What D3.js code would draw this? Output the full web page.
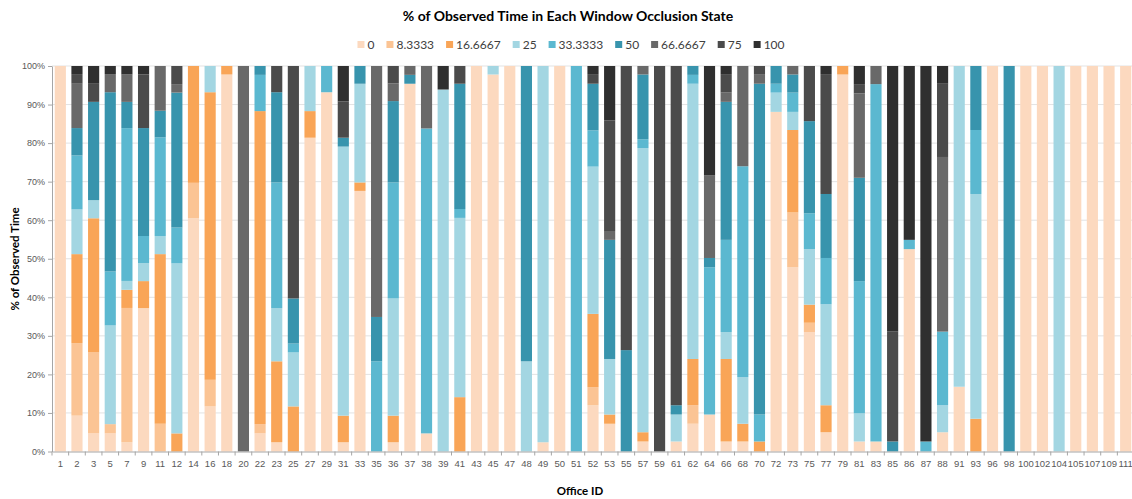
<!DOCTYPE html>
<html>
<head>
<meta charset="utf-8">
<script src="https://cdn.jsdelivr.net/npm/d3@7"></script>
<style>
  body { margin: 0; background: #fff; }
  svg { font-family: Lato, "Open Sans", sans-serif; }
</style>
</head>
<body>
<div id="chart"></div>
<script>
const officeIds = [1,2,3,5,7,9,11,12,14,16,18,20,22,23,25,27,29,31,33,35,36,37,38,39,41,43,45,47,48,49,
  50,51,52,53,55,57,59,61,62,64,66,68,70,72,73,75,77,79,81,83,85,86,87,88,91,93,96,98,100,102,
  104,105,107,109,111];

const states = ["0", "8.3333", "16.6667", "25", "33.3333", "50", "66.6667", "75", "100"];
const stateColors = ["#fcd9bf", "#fbc494", "#f9a557", "#a3d6e2", "#5bb8d0", "#3894ad", "#696969", "#4b4b4b", "#2f2f2f"];

const s0 = [100,9.3,4.7,4.7,2.4,37.2,0,0,60.5,11.7,
  97.8,0,4.7,2.4,0,81.4,93.2,2.4,67.6,0,
  2.4,95.4,4.7,0,0,100,97.8,100,0,2.4,
  100,0,12.0,7.2,0,2.6,0,2.6,7.2,9.6,
  2.6,2.6,0,88.1,47.8,31.0,5.0,97.8,2.6,2.6,
  0,52.5,0,5.0,16.8,0,100,0,100,100,
  0,100,100,100,100];
const s8 = [0,18.8,21.0,2.4,34.8,0,7.2,0,9.2,6.9,
  0,0,2.4,0,0,0,0,0,0,0,
  0,0,0,0,0,0,0,0,0,0,
  0,0,4.7,0,0,0,0,0,4.8,0,
  0,0,0,0,14.2,2.4,0,0,0,0,
  0,0,0,0,0,0,0,0,0,0,
  0,0,0,0,0];
const s16 = [0,23.1,34.8,0,4.7,7.0,44.0,4.7,30.3,74.6,
  2.2,0,81.2,21.0,11.7,6.9,0,6.9,2.2,0,
  6.9,0,0,0,14.1,0,0,0,0,0,
  0,0,19.0,2.4,0,2.4,0,0,12.0,0,
  21.4,4.6,2.6,0,21.4,4.7,7.0,2.2,0,0,
  0,0,0,0,0,8.5,0,0,0,0,
  0,0,0,0,0];
const s25 = [0,11.6,4.7,25.6,2.3,4.7,4.7,44.1,0,6.8,
  0,0,0,13.8,14.0,11.7,0,69.8,25.6,0,
  30.4,0,0,93.9,46.5,0,2.2,0,23.4,97.6,
  0,0,38.2,14.4,0,73.7,0,7.0,71.4,0,
  7.0,12.1,0,5.0,4.7,14.4,26.2,0,7.3,0,
  0,0,0,7.0,83.2,58.3,0,0,0,0,
  100,0,0,0,0];
const s33 = [0,14.0,0,14.0,39.6,7.0,25.6,9.3,0,0,
  0,0,9.4,32.6,2.3,0,6.8,0,0,23.4,
  30.1,0,79.1,0,2.3,0,0,0,0,0,
  0,100,9.4,0,0,2.3,0,0,2.3,38.2,
  23.9,54.7,7.0,2.3,5.0,9.3,12.0,0,34.3,92.7,
  0,2.4,2.6,19.1,0,16.6,0,0,0,0,
  0,0,0,0,0];
const s50 = [0,7.1,25.5,46.5,6.8,28.0,6.9,35.0,0,0,
  0,0,2.3,23.4,11.7,0,0,2.3,4.6,11.5,
  21.1,2.3,0,0,32.5,0,0,0,76.6,0,
  0,0,12.1,30.9,26.3,16.8,0,2.4,2.3,2.4,
  35.8,0,85.8,4.6,4.7,23.9,16.6,0,26.8,0,
  2.6,0,0,0,0,16.6,0,100,0,0,
  0,0,0,0,0];
const s66 = [0,11.5,0,4.7,7.1,0,11.6,2.2,0,0,
  0,100,0,0,0,0,0,0,0,65.1,
  4.6,2.3,16.2,0,0,0,0,0,0,0,
  0,0,0,2.3,0,2.2,0,0,0,21.4,
  2.4,26.0,2.5,0,2.2,0,0,0,21.9,4.7,
  0,0,0,45.3,0,0,0,0,0,0,
  0,0,0,0,0];
const s75 = [0,2.5,4.7,0,0,13.9,0,4.7,0,0,
  0,0,0,6.8,60.3,0,0,9.4,0,0,
  4.5,0,0,0,4.6,0,0,0,0,0,
  0,0,2.5,28.7,73.7,0,100,88.0,0,0,
  4.8,0,2.1,0,0,14.3,31.1,0,2.4,0,
  28.5,0,0,19.0,0,0,0,0,0,0,
  0,0,0,0,0];
const s100 = [0,2.1,4.6,2.1,2.2,2.2,0,0,0,0,
  0,0,0,0,0,0,0,9.2,0,0,
  0,0,0,6.1,0,0,0,0,0,0,
  0,0,2.1,14.1,0,0,0,0,0,28.4,
  2.1,0,0,0,0,0,2.1,0,4.7,0,
  68.9,45.1,97.4,4.6,0,0,0,0,0,0,
  0,0,0,0,0];

const yTicks = [0, 0.1, 0.2, 0.3, 0.4, 0.5, 0.6, 0.7, 0.8, 0.9, 1];

const series = [s0, s8, s16, s25, s33, s50, s66, s75, s100];
const rows = officeIds.map((id, i) => {
  const r = { id: id };
  states.forEach((s, k) => r[s] = series[k][i]);
  return r;
});

const width = 1132, height = 499;
const plotLeft = 52, plotRight = 1134, plotTop = 66, plotBottom = 451.5;

const svg = d3.select("#chart").append("svg")
  .attr("width", width)
  .attr("height", height);

const x = d3.scaleBand().domain(officeIds).range([plotLeft, plotRight])
  .paddingInner(0.33).paddingOuter(0.165);
const y = d3.scaleLinear().domain([0, 1]).range([plotBottom, plotTop]);
const color = d3.scaleOrdinal().domain(states).range(stateColors);

// gridlines
svg.append("g")
  .selectAll("line")
  .data(yTicks.slice(1))
  .enter().append("line")
  .attr("x1", plotLeft).attr("x2", plotRight)
  .attr("y1", d => y(d)).attr("y2", d => y(d))
  .attr("stroke", "#e3e3e3");

const stacked = d3.stack().keys(states).offset(d3.stackOffsetExpand)(rows);

svg.append("g")
  .selectAll("g")
  .data(stacked)
  .enter().append("g")
  .attr("fill", d => color(d.key))
  .selectAll("rect")
  .data(d => d)
  .enter().append("rect")
  .attr("x", d => x(d.data.id))
  .attr("width", x.bandwidth())
  .attr("y", d => y(d[1]))
  .attr("height", d => y(d[0]) - y(d[1]));

// y axis
const yAxis = svg.append("g")
  .attr("transform", `translate(${plotLeft},0)`)
  .call(d3.axisLeft(y).tickValues(yTicks).tickFormat(d3.format(".0%")).tickSize(4).tickSizeOuter(0));
yAxis.select(".domain").attr("stroke", "#a6a6a6");
yAxis.selectAll(".tick line").attr("stroke", "#a6a6a6");
yAxis.selectAll("text").attr("fill", "#595959").style("font-size", "9px").attr("x", -7);

// x axis
const xAxis = svg.append("g")
  .attr("transform", `translate(0,${plotBottom})`)
  .call(d3.axisBottom(x).tickSize(0).tickSizeOuter(0));
xAxis.select(".domain").attr("stroke", "#a6a6a6");
xAxis.selectAll("text").attr("fill", "#595959").style("font-size", "9.5px").attr("dy", "1.35em");

// boundary ticks between categories
svg.append("g")
  .selectAll("line")
  .data(officeIds.concat([null]))
  .enter().append("line")
  .attr("x1", (d, i) => plotLeft + i * x.step())
  .attr("x2", (d, i) => plotLeft + i * x.step())
  .attr("y1", plotBottom).attr("y2", plotBottom + 4)
  .attr("stroke", "#a6a6a6");

// titles
svg.append("text")
  .attr("x", 568).attr("y", 21)
  .attr("text-anchor", "middle")
  .style("font-size", "14px").style("font-weight", "bold")
  .attr("fill", "#000")
  .text("% of Observed Time in Each Window Occlusion State");

svg.append("text")
  .attr("x", 580).attr("y", 495)
  .attr("text-anchor", "middle")
  .style("font-size", "11.5px").style("font-weight", "bold")
  .text("Office ID");

svg.append("text")
  .attr("transform", "translate(19,259) rotate(-90)")
  .attr("text-anchor", "middle")
  .style("font-size", "11.5px").style("font-weight", "bold")
  .text("% of Observed Time");

// legend
const legend = svg.append("g");
let lx = 0;
states.forEach(s => {
  const item = legend.append("g").attr("transform", `translate(${lx},0)`);
  item.append("rect")
    .attr("x", 0).attr("y", -4).attr("width", 7).attr("height", 7)
    .attr("fill", color(s));
  const t = item.append("text")
    .attr("x", 10).attr("y", 4)
    .style("font-size", "12px")
    .attr("fill", "#404040")
    .text(s);
  lx += 10 + t.node().getComputedTextLength() + 12;
});
legend.attr("transform", `translate(${571 - (lx - 12) / 2},45)`);
</script>
</body>
</html>
